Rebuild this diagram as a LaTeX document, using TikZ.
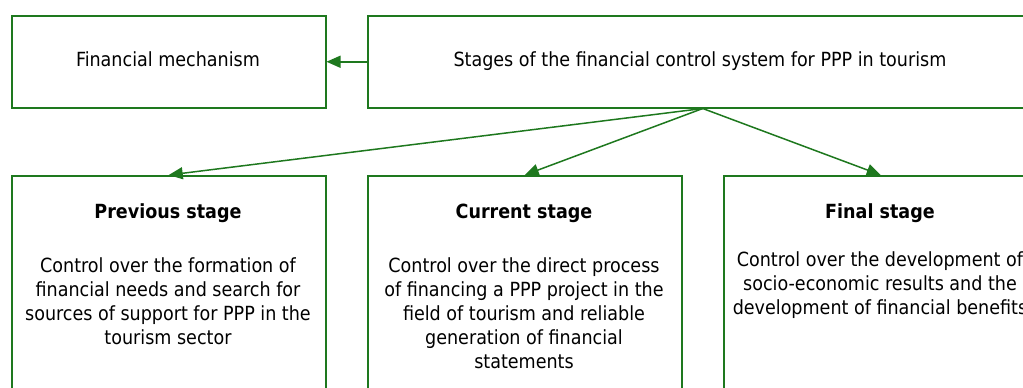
\documentclass[tikz,border=0pt]{standalone}
\usepackage{fontspec}
\setmainfont{DejaVu Sans Condensed}
\usetikzlibrary{arrows.meta}
\definecolor{boxgreen}{RGB}{30,120,30}
\tikzset{
  stagebox/.style={draw=boxgreen, line width=1.5pt, rectangle, inner sep=0pt, anchor=north west},
  arr/.style={draw=boxgreen, fill=boxgreen, line width=1.5pt, -{Triangle[length=14pt,width=12pt]}},
  lbl/.style={inner sep=0pt, anchor=base, font=\fontsize{19.5}{24}\selectfont},
  ttl/.style={inner sep=0pt, font=\fontsize{19.5}{24}\selectfont\bfseries, anchor=base},
  body/.style={inner sep=0pt, align=center, anchor=north, font=\fontsize{19.5}{24}\selectfont}
}
\begin{document}
\begin{tikzpicture}[x=1pt,y=-1pt]
\useasboundingbox (0,0) rectangle (1023,388);
\clip (0,0) rectangle (1023,388);
\node[stagebox, minimum width=314pt, minimum height=92pt] (fm) at (11,15) {};
\node[stagebox, minimum width=670pt, minimum height=92pt] (stages) at (367,15) {};
\node[stagebox, minimum width=314pt, minimum height=240pt] (prev) at (11,175) {};
\node[stagebox, minimum width=314pt, minimum height=240pt] (curr) at (367,175) {};
\node[stagebox, minimum width=314pt, minimum height=240pt] (fin) at (723,175) {};

\node[lbl] (fmT) at (168,66) {Financial mechanism};
\node[lbl] (stT) at (700,66) {Stages of the financial control system for PPP in tourism};

\node[ttl] (prevT) at (168,218) {Previous stage};
\node[ttl] (currT) at (524,218) {Current stage};
\node[ttl] (finT) at (880,218) {Final stage};

\node[body] (prevB) at (168,257) {Control over the formation of\\financial needs and search for\\sources of support for PPP in the\\tourism sector};
\node[body] (currB) at (524,257) {Control over the direct process\\of financing a PPP project in the\\field of tourism and reliable\\generation of financial\\statements};
\node[body] (finB) at (880,251) {Control over the development of\\socio-economic results and the\\development of financial benefits};

\draw[arr] (stages.west) -- (fm.east);
\draw[arr] (stages.south) -- (prev.north);
\draw[arr] (stages.south) -- (curr.north);
\draw[arr] (stages.south) -- (fin.north);
\end{tikzpicture}
\end{document}
